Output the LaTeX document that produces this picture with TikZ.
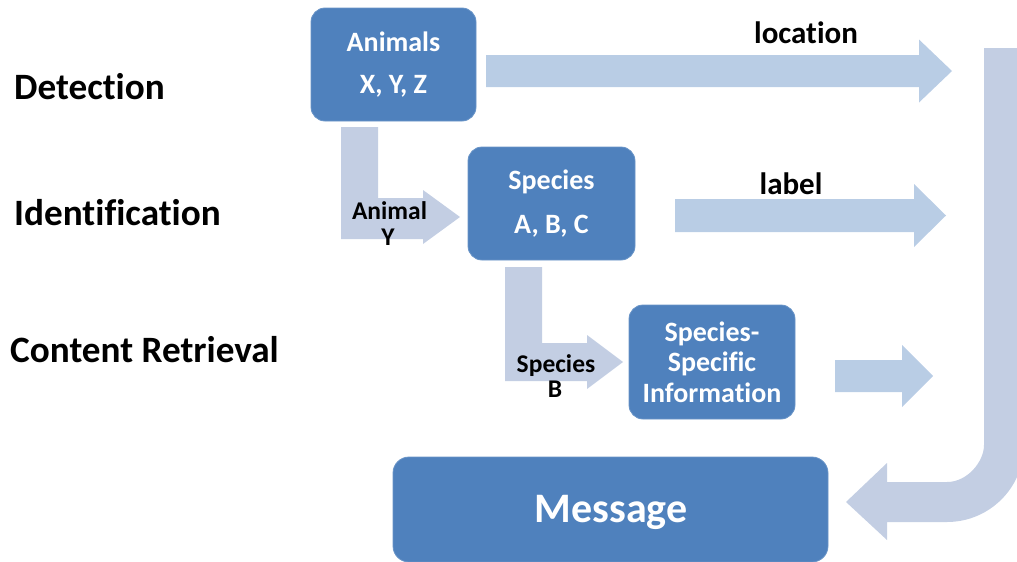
\documentclass[tikz,border=0pt]{standalone}
\usepackage{fontspec}
\setmainfont{Carlito}[Ligatures=CommonOff]
\definecolor{boxblue}{HTML}{4F81BD}
\definecolor{flowblue}{HTML}{B9CDE5}
\definecolor{bendblue}{HTML}{C3CEE3}
\tikzset{
  stage/.style={rectangle, rounded corners=14pt, fill=boxblue, draw=boxblue!85!white,
    line width=0.8pt, text=white, align=center, inner sep=0pt,
    font=\bfseries\fontsize{28}{30.5}\selectfont},
  rowlabel/.style={anchor=base west, inner sep=0pt, font=\bfseries\fontsize{37.2}{40}\selectfont},
  flowlabel/.style={anchor=base, inner sep=0pt, font=\bfseries\fontsize{31}{34}\selectfont},
  passlabel/.style={anchor=base, inner sep=0pt, font=\bfseries\fontsize{25.5}{28}\selectfont},
}
% straight block arrow: shaft start x, head base x, tip x, centre y, shaft half width, head half width
\newcommand\blockarrowright[6]{%
  \fill[flowblue] (#1,#4-#5) -- (#2,#4-#5) -- (#2,#4-#6) -- (#3,#4)
    -- (#2,#4+#6) -- (#2,#4+#5) -- (#1,#4+#5) -- cycle;}
\begin{document}
\begin{tikzpicture}[x=1pt, y=-1pt]
\useasboundingbox (0,0) rectangle (1017,562);

% row headings
\node[rowlabel] (det) at (14,99) {Detection};
\node[rowlabel] (ident) at (14,225) {Identification};
\node[rowlabel] (retr) at (10,362) {Content Retrieval};

% stages
\node[stage, minimum width=165pt, minimum height=113pt] (animals) at (393.5,64.5)
  {Animals\\[11.5pt]X, Y, Z};
\node[stage, minimum width=167pt, minimum height=113pt] (species) at (551.5,203.5)
  {Species\\[13.5pt]A, B, C};
\node[stage, minimum width=166pt, minimum height=114pt] (info) at (712,362)
  {Species-\\Specific\\Information};
\node[stage, minimum width=435pt, minimum height=105pt, rounded corners=16pt,
  font=\bfseries\fontsize{42}{44}\selectfont] (msg) at (610.5,509.5) {};
\node[anchor=base, inner sep=0pt, text=white, font=\bfseries\fontsize{42}{44}\selectfont]
  (msgtext) at (611,522) {Message};

% outputs of each stage
\blockarrowright{486}{919}{952}{71}{16}{31.5}
\blockarrowright{675}{914}{946}{215.5}{16.5}{31.5}
\blockarrowright{835}{902}{933}{376}{16}{31}
\node[flowlabel] (loc) at (806,43) {location};
\node[flowlabel] (lab) at (791,194) {label};

% Animals -> Species
\fill[bendblue] (341,127) -- (378,127) -- (378,198) -- (423,198) -- (423,190)
  -- (460,217) -- (423,244) -- (423,239) -- (341,239) -- cycle;
\node[passlabel] (pa) at (389.5,219) {Animal};
\node[passlabel] (pay) at (388,245) {Y};

% Species -> Species-Specific Information
\fill[bendblue] (505,267) -- (542,267) -- (542,343) -- (587,343) -- (587,335)
  -- (623,362) -- (587,389) -- (587,381) -- (505,381) -- cycle;
\node[passlabel] (ps) at (556,372) {Species};
\node[passlabel] (psb) at (555,397) {B};

% collected outputs returned to the message
\fill[bendblue] (984,48) -- (1024,48) -- (1024,445)
  .. controls (1024,487.5) and (989.5,522) .. (947,522)
  -- (887,522) -- (887,540) -- (846,502) -- (887,463) -- (887,482) -- (947,482)
  .. controls (967.4,482) and (984,461.6) .. (984,445) -- cycle;
\end{tikzpicture}
\end{document}
